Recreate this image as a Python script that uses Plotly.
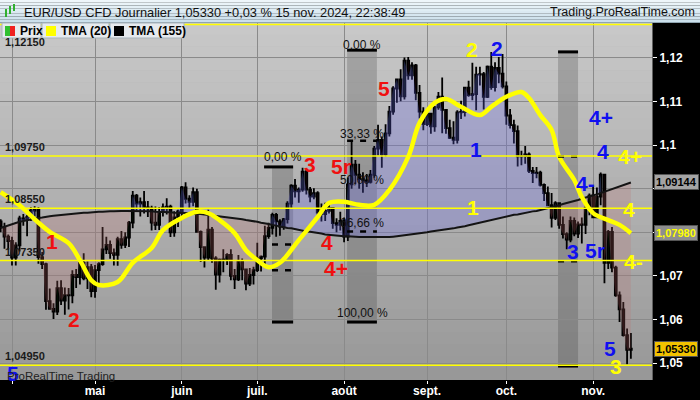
import plotly.graph_objects as go
import pandas as pd

# ---------------- data ----------------
dates = list(pd.bdate_range("2024-03-27", "2024-11-15").strftime("%Y-%m-%d"))

open_ = [1.0825,1.0812,1.0790,1.0780,1.0742,1.0770,1.0832,1.0830,1.0835,1.0850,
         1.0852,1.0743,1.0727,1.0642,1.0624,1.0618,1.0672,1.0643,1.0656,1.0655,
         1.0702,1.0697,1.0730,1.0694,1.0720,1.0665,1.0713,1.0727,1.0761,1.0771,
         1.0752,1.0748,1.0784,1.0771,1.0788,1.0822,1.0884,1.0866,1.0869,1.0857,
         1.0855,1.0822,1.0817,1.0847,1.0857,1.0859,1.0800,1.0834,1.0848,1.0903,
         1.0877,1.0870,1.0892,1.0801,1.0766,1.0742,1.0806,1.0740,1.0703,1.0737,
         1.0738,1.0748,1.0700,1.0692,1.0734,1.0715,1.0682,1.0702,1.0713,1.0740,
         1.0744,1.0791,1.0810,1.0840,1.0825,1.0813,1.0830,1.0866,1.0907,1.0894,
         1.0898,1.0939,1.0898,1.0882,1.0890,1.0845,1.0842,1.0849,1.0856,1.0821,
         1.0817,1.0826,1.0790,1.0910,1.0955,1.0932,1.0922,1.0919,1.0916,1.0932,
         1.0992,1.1012,1.0979,1.1027,1.1077,1.1130,1.1151,1.1112,1.1194,1.1160,
         1.1183,1.1120,1.1077,1.1048,1.1072,1.1043,1.1087,1.1111,1.1081,1.1039,
         1.1017,1.1012,1.1075,1.1076,1.1132,1.1115,1.1117,1.1162,1.1163,1.1111,
         1.1180,1.1133,1.1177,1.1164,1.1135,1.1068,1.1046,1.1032,1.0974,1.0975,
         1.0979,1.0941,1.0936,1.0937,1.0909,1.0890,1.0862,1.0833,1.0867,1.0817,
         1.0796,1.0783,1.0826,1.0797,1.0818,1.0817,1.0856,1.0884,1.0834,1.0882,
         1.0932,1.0730,1.0801,1.0719,1.0655,1.0623,1.0564,1.0530]
high = [1.0830,1.0822,1.0795,1.0790,1.0777,1.0838,1.0842,1.0840,1.0858,1.0860,
        1.0858,1.0755,1.0730,1.0671,1.0637,1.0689,1.0690,1.0673,1.0672,1.0713,
        1.0716,1.0743,1.0752,1.0733,1.0727,1.0725,1.0731,1.0812,1.0790,1.0781,
        1.0763,1.0790,1.0803,1.0800,1.0826,1.0895,1.0888,1.0880,1.0895,1.0872,
        1.0861,1.0859,1.0858,1.0866,1.0878,1.0863,1.0848,1.0852,1.0906,1.0915,
        1.0885,1.0903,1.0900,1.0804,1.0767,1.0852,1.0812,1.0745,1.0740,1.0761,
        1.0752,1.0761,1.0716,1.0748,1.0740,1.0717,1.0718,1.0721,1.0776,1.0747,
        1.0815,1.0822,1.0845,1.0844,1.0830,1.0833,1.0871,1.0910,1.0922,1.0903,
        1.0948,1.0943,1.0904,1.0901,1.0894,1.0866,1.0868,1.0871,1.0858,1.0832,
        1.0847,1.0834,1.0926,1.1009,1.0966,1.0957,1.0938,1.0934,1.0943,1.0998,
        1.1047,1.1020,1.1048,1.1090,1.1135,1.1151,1.1174,1.1201,1.1202,1.1190,
        1.1186,1.1138,1.1087,1.1083,1.1073,1.1090,1.1122,1.1155,1.1082,1.1058,
        1.1055,1.1080,1.1102,1.1134,1.1148,1.1189,1.1180,1.1180,1.1168,1.1183,
        1.1214,1.1190,1.1202,1.1209,1.1146,1.1083,1.1058,1.1045,1.0987,1.0998,
        1.0983,1.0950,1.0950,1.0941,1.0912,1.0905,1.0890,1.0871,1.0869,1.0836,
        1.0800,1.0836,1.0834,1.0825,1.0834,1.0870,1.0889,1.0905,1.0903,1.0937,
        1.0933,1.0805,1.0812,1.0723,1.0664,1.0640,1.0579,1.0569]
low = [1.0800,1.0762,1.0760,1.0724,1.0724,1.0756,1.0815,1.0791,1.0826,1.0836,
       1.0728,1.0716,1.0622,1.0622,1.0601,1.0610,1.0633,1.0611,1.0623,1.0637,
       1.0672,1.0680,1.0690,1.0670,1.0651,1.0650,1.0678,1.0723,1.0750,1.0739,
       1.0724,1.0723,1.0762,1.0764,1.0766,1.0809,1.0850,1.0836,1.0843,1.0835,
       1.0804,1.0805,1.0805,1.0836,1.0841,1.0789,1.0790,1.0812,1.0836,1.0866,
       1.0855,1.0860,1.0800,1.0732,1.0719,1.0735,1.0730,1.0668,1.0685,1.0708,
       1.0725,1.0690,1.0670,1.0688,1.0690,1.0667,1.0677,1.0680,1.0709,1.0710,
       1.0725,1.0785,1.0795,1.0790,1.0792,1.0806,1.0820,1.0854,1.0880,1.0868,
       1.0893,1.0887,1.0869,1.0876,1.0838,1.0825,1.0826,1.0843,1.0808,1.0800,
       1.0804,1.0777,1.0780,1.0900,1.0910,1.0900,1.0891,1.0904,1.0912,1.0925,
       1.0976,1.0948,1.0974,1.1020,1.1070,1.1097,1.1101,1.1105,1.1150,1.1150,
       1.1103,1.1061,1.1034,1.1044,1.1026,1.1031,1.1081,1.1027,1.1026,1.1014,
       1.1002,1.1004,1.1060,1.1066,1.1111,1.1103,1.1080,1.1137,1.1082,1.1108,
       1.1127,1.1123,1.1142,1.1130,1.1047,1.1038,1.1004,1.0951,1.0954,1.0957,
       1.0936,1.0913,1.0924,1.0905,1.0872,1.0862,1.0811,1.0828,1.0808,1.0786,
       1.0761,1.0777,1.0791,1.0787,1.0774,1.0796,1.0839,1.0833,1.0834,1.0862,
       1.0683,1.0716,1.0708,1.0652,1.0594,1.0561,1.0497,1.0510]
close = [1.0812,1.0790,1.0780,1.0742,1.0770,1.0832,1.0830,1.0835,1.0850,1.0852,
         1.0743,1.0727,1.0642,1.0624,1.0618,1.0672,1.0643,1.0656,1.0655,1.0702,
         1.0697,1.0730,1.0694,1.0720,1.0665,1.0713,1.0727,1.0761,1.0771,1.0752,
         1.0748,1.0784,1.0771,1.0788,1.0822,1.0884,1.0866,1.0869,1.0857,1.0855,
         1.0822,1.0817,1.0847,1.0857,1.0859,1.0800,1.0834,1.0848,1.0903,1.0877,
         1.0870,1.0892,1.0801,1.0766,1.0742,1.0806,1.0740,1.0703,1.0737,1.0738,
         1.0748,1.0700,1.0692,1.0734,1.0715,1.0682,1.0702,1.0713,1.0740,1.0744,
         1.0791,1.0810,1.0840,1.0825,1.0813,1.0830,1.0866,1.0907,1.0894,1.0898,
         1.0939,1.0898,1.0882,1.0890,1.0845,1.0842,1.0849,1.0856,1.0821,1.0817,
         1.0826,1.0790,1.0910,1.0955,1.0932,1.0922,1.0919,1.0916,1.0932,1.0992,
         1.1012,1.0979,1.1027,1.1077,1.1130,1.1151,1.1112,1.1194,1.1160,1.1183,
         1.1120,1.1077,1.1048,1.1072,1.1043,1.1087,1.1111,1.1081,1.1039,1.1017,
         1.1012,1.1075,1.1076,1.1132,1.1115,1.1117,1.1162,1.1163,1.1111,1.1180,
         1.1133,1.1177,1.1164,1.1135,1.1068,1.1046,1.1032,1.0974,1.0975,1.0979,
         1.0941,1.0936,1.0937,1.0909,1.0890,1.0862,1.0833,1.0867,1.0817,1.0796,
         1.0783,1.0826,1.0797,1.0818,1.0817,1.0856,1.0884,1.0834,1.0882,1.0932,
         1.0730,1.0801,1.0719,1.0655,1.0623,1.0564,1.0530,1.0533]

tma155 = [1.0810,1.0813,1.0816,1.0819,1.0821,1.0824,1.0826,1.0828,1.0830,1.0832,
          1.0833,1.0834,1.0836,1.0837,1.0838,1.0839,1.0840,1.0841,1.0842,1.0843,
          1.0843,1.0844,1.0845,1.0845,1.0846,1.0846,1.0847,1.0847,1.0848,1.0848,
          1.0848,1.0849,1.0849,1.0849,1.0849,1.0849,1.0849,1.0848,1.0848,1.0848,
          1.0848,1.0847,1.0847,1.0847,1.0846,1.0846,1.0845,1.0845,1.0844,1.0844,
          1.0843,1.0843,1.0842,1.0842,1.0841,1.0840,1.0839,1.0838,1.0837,1.0836,
          1.0835,1.0834,1.0832,1.0831,1.0830,1.0828,1.0827,1.0825,1.0824,1.0822,
          1.0821,1.0819,1.0817,1.0815,1.0814,1.0812,1.0810,1.0809,1.0807,1.0805,
          1.0804,1.0802,1.0801,1.0800,1.0798,1.0797,1.0795,1.0794,1.0793,1.0793,
          1.0792,1.0791,1.0791,1.0790,1.0790,1.0789,1.0789,1.0789,1.0789,1.0788,
          1.0788,1.0788,1.0789,1.0789,1.0790,1.0791,1.0792,1.0793,1.0794,1.0795,
          1.0797,1.0798,1.0799,1.0800,1.0802,1.0803,1.0804,1.0806,1.0807,1.0808,
          1.0809,1.0811,1.0812,1.0814,1.0816,1.0818,1.0820,1.0822,1.0824,1.0826,
          1.0829,1.0831,1.0833,1.0835,1.0836,1.0838,1.0840,1.0841,1.0843,1.0845,
          1.0846,1.0848,1.0849,1.0851,1.0853,1.0855,1.0858,1.0860,1.0862,1.0865,
          1.0867,1.0869,1.0872,1.0874,1.0877,1.0880,1.0882,1.0885,1.0887,1.0890,
          1.0893,1.0896,1.0899,1.0902,1.0905,1.0908,1.0911,1.09144]

tma20_days = [0, 5, 9, 13, 18, 21, 24, 26, 31, 35, 40, 43, 48, 52, 55, 58, 62, 65,
              68, 71, 74, 79, 84, 87, 91, 95, 99, 103, 108, 111, 115, 118, 122,
              127, 130, 134, 138, 140, 143, 146, 148, 152, 154, 157, 161, 164, 167]
tma20_vals = [1.0892, 1.0862, 1.0830, 1.0801, 1.0775, 1.0736, 1.0690, 1.0679,
              1.0686, 1.0730, 1.0764, 1.0805, 1.0833, 1.0847, 1.0844, 1.0828,
              1.0798, 1.0759, 1.0736, 1.0720, 1.0730, 1.0782, 1.0835, 1.0867,
              1.0870, 1.0863, 1.0863, 1.0897, 1.0973, 1.1051, 1.1097, 1.1106,
              1.1088, 1.1069, 1.1088, 1.1111, 1.1122, 1.1108, 1.1069, 1.1035,
              1.0973, 1.0920, 1.0881, 1.0844, 1.0828, 1.0817, 1.07980]

month_tick_dates = ["2024-04-01", "2024-05-01", "2024-06-03", "2024-07-01",
                    "2024-08-01", "2024-09-02", "2024-10-01", "2024-11-01"]
month_labels = ["", "mai", "juin", "juil.", "août", "sept.", "oct.", "nov."]

price_ticks = [1.05, 1.06, 1.07, 1.08, 1.09, 1.10, 1.11, 1.12]
# 1,08 and 1,09 sit under the value boxes in the reference
price_tick_labels = ["1,05", "1,06", "1,07", "", "", "1,1", "1,11", "1,12"]

level_lines = [1.1277, 1.0975, 1.0855, 1.0735, 1.0495]
level_label_vals = [1.1215, 1.0975, 1.0855, 1.0735, 1.0495]
level_label_text = ["1,12150", "1,09750", "1,08550", "1,07350", "1,04950"]

# Fibonacci boxes: (x start, x end, 0% price, 100% price, dashed levels)
fib_boxes = [
    (71.9, 77.5, 1.0950, 1.0594, [0.5, 0.6666]),
    (91.8, 99.7, 1.1218, 1.0594, [0.3333, 0.6666]),
    (147.7, 153.0, 1.1214, 1.0493, [0.3333, 0.6666]),
]
fib_texts = [("0,00 %", 74.8, 1.0973), ("0,00 %", 95.8, 1.1230),
             ("33,33 %", 95.8, 1.1026), ("50,00 %", 95.8, 1.0920),
             ("66,66 %", 95.8, 1.0821), ("100,00 %", 95.8, 1.0615)]

RED, YEL, BLU = "#f01010", "#ffff00", "#1010f0"
wave_labels = [
    ("1", RED, 13.6, 1.0780), ("2", RED, 19.3, 1.0599), ("3", RED, 81.9, 1.0955),
    ("5r", RED, 90.2, 1.0952), ("4", RED, 86.5, 1.0776), ("4+", RED, 88.8, 1.0718),
    ("5", RED, 101.5, 1.1131),
    ("2", YEL, 124.9, 1.1220), ("1", YEL, 125.2, 1.0857), ("4+", YEL, 166.7, 1.0973),
    ("4", YEL, 166.5, 1.0852), ("4-", YEL, 167.8, 1.0734), ("3", YEL, 163.1, 1.0491),
    ("2", BLU, 131.5, 1.1222), ("1", BLU, 126.0, 1.0991), ("4+", BLU, 159.0, 1.1063),
    ("4", BLU, 159.6, 1.0985), ("4-", BLU, 154.9, 1.0911), ("3", BLU, 151.7, 1.0757),
    ("5r", BLU, 157.6, 1.0759), ("5", BLU, 161.6, 1.0534), ("5", BLU, 3.3, 1.0477),
]

# ---------------- geometry helpers ----------------
n = len(dates)
xi = list(range(n))
idx_of = {d: i for i, d in enumerate(dates)}
X0, X1 = -0.18, 172.6
Y0, Y1 = 1.0461, 1.12803
PW, PH, TOP = 652, 357, 23


def px(xpix):
    return xpix / PW


def py(ypix):
    return (TOP + PH - ypix) / PH


fig = go.Figure()

# fill between close and TMA(155)
polys = []
d = [c - t for c, t in zip(close, tma155)]
sign = d[0] >= 0
cur_c = [(0, close[0])]
cur_t = [(0, tma155[0])]
for i in range(1, n):
    s = d[i] >= 0
    if s != sign:
        t = d[i - 1] / (d[i - 1] - d[i])
        xc = i - 1 + t
        yc = close[i - 1] + t * (close[i] - close[i - 1])
        cur_c.append((xc, yc))
        polys.append((sign, cur_c + cur_t[::-1]))
        cur_c = [(xc, yc)]
        cur_t = [(xc, yc)]
        sign = s
    cur_c.append((i, close[i]))
    cur_t.append((i, tma155[i]))
polys.append((sign, cur_c + cur_t[::-1]))
for above, pts in polys:
    fig.add_trace(go.Scatter(
        x=[p[0] for p in pts], y=[p[1] for p in pts], mode="lines",
        fill="toself", line=dict(width=0),
        fillcolor="rgba(105,105,235,0.27)" if above else "rgba(190,110,110,0.22)",
        hoverinfo="skip", showlegend=False))

fig.add_trace(go.Candlestick(
    x=xi, open=open_, high=high, low=low, close=close,
    increasing=dict(line=dict(color="black", width=1.8), fillcolor="#20e020"),
    decreasing=dict(line=dict(color="black", width=1.8), fillcolor="#ff2040"),
    whiskerwidth=0, showlegend=False, hoverinfo="skip"))

fig.add_trace(go.Scatter(x=xi, y=tma155, mode="lines",
                         line=dict(color="#141414", width=2),
                         showlegend=False, hoverinfo="skip"))
fig.add_trace(go.Scatter(x=tma20_days, y=tma20_vals, mode="lines",
                         line=dict(color="#ffff00", width=4.5, shape="spline", smoothing=1.0),
                         showlegend=False, hoverinfo="skip"))

shapes = []
# gradient background of plot
NB = 30
for k in range(NB):
    f = k / (NB - 1)
    g = int(round(200 - 48 * f))
    shapes.append(dict(type="rect", xref="paper", yref="paper", x0=0, x1=1,
                       y0=1 - (k + 1) / NB, y1=1 - k / NB + 0.001, layer="below",
                       line=dict(width=0), fillcolor=f"rgb({g},{g},{g})"))
# header gradient
NH = 8
for k in range(NH):
    f = k / (NH - 1)
    r = int(round(238 - 34 * f)); g = int(round(246 - 22 * f)); b = int(round(250 - 14 * f))
    shapes.append(dict(type="rect", xref="paper", yref="paper", x0=0, x1=700 / PW,
                       y0=py(22 * (k + 1) / NH), y1=py(22 * k / NH), layer="above",
                       line=dict(width=0), fillcolor=f"rgb({r},{g},{b})"))
shapes.append(dict(type="line", xref="paper", yref="paper", x0=0, x1=700 / PW,
                   y0=py(22.5), y1=py(22.5), line=dict(color="#8fa4b0", width=1), layer="above"))

# fib boxes
for (xa, xb, p0, p1, lv) in fib_boxes:
    shapes.append(dict(type="rect", xref="x", yref="y", x0=xa, x1=xb, y0=p1, y1=p0,
                       layer="below", line=dict(width=0), fillcolor="rgba(40,40,40,0.22)"))
    shapes.append(dict(type="line", xref="x", yref="y", x0=xa, x1=xb, y0=p0, y1=p0,
                       line=dict(color="black", width=3), layer="above"))
    shapes.append(dict(type="line", xref="x", yref="y", x0=xa, x1=xb, y0=p1, y1=p1,
                       line=dict(color="black", width=3), layer="above"))
    for r in lv:
        pv = p0 - r * (p0 - p1)
        shapes.append(dict(type="line", xref="x", yref="y", x0=xa, x1=xb, y0=pv, y1=pv,
                           line=dict(color="black", width=2.5, dash="6px,7px"), layer="above"))
# extra underline of first fib label
shapes.append(dict(type="line", xref="x", yref="y", x0=69.8, x1=71.9, y0=1.0950, y1=1.0950,
                   line=dict(color="black", width=3), layer="above"))

# yellow level lines
for v in level_lines:
    shapes.append(dict(type="line", xref="paper", yref="y", x0=0, x1=1, y0=v, y1=v,
                       line=dict(color="#ffff00", width=1.5), layer="above"))

# legend boxes
legend_boxes = [(2, 41), (42, 109), (110, 184)]
for a, b in legend_boxes:
    shapes.append(dict(type="rect", xref="paper", yref="paper", x0=px(a), x1=px(b),
                       y0=py(38), y1=py(23), layer="above",
                       line=dict(color="#a8b4bc", width=1), fillcolor="#e6eaee"))
icons = [(5, 10, "#30c030"), (10, 15, "#f02020"), (46, 56, "#ffff00"), (114, 124, "#000000")]
for a, b, c in icons:
    shapes.append(dict(type="rect", xref="paper", yref="paper", x0=px(a), x1=px(b),
                       y0=py(36), y1=py(26), layer="above", line=dict(width=0), fillcolor=c))
# small title icon candles
for a, b, t, bt, c in [(5, 7, 9, 17, "#30b030"), (9, 11, 6, 14, "#30b030"), (13, 15, 4, 11, "#30b030")]:
    shapes.append(dict(type="rect", xref="paper", yref="paper", x0=px(a), x1=px(b),
                       y0=py(bt), y1=py(t), layer="above", line=dict(width=0), fillcolor=c))

annotations = []
FONT = "Liberation Sans, Arial, sans-serif"
annotations.append(dict(xref="paper", yref="paper", x=px(22), y=py(12), xanchor="left",
                        yanchor="middle", showarrow=False,
                        text="EUR/USD CFD Journalier 1,05330 +0,03 % 15 nov. 2024, 22:38:49",
                        font=dict(family=FONT, size=12.8, color="#111111")))
annotations.append(dict(xref="paper", yref="paper", x=px(697), y=py(12), xanchor="right",
                        yanchor="middle", showarrow=False, text="Trading.ProRealTime.com",
                        font=dict(family=FONT, size=12.5, color="#111111")))
for txt, x in [("Prix", 18), ("TMA (20)", 59), ("TMA (155)", 127)]:
    annotations.append(dict(xref="paper", yref="paper", x=px(x), y=py(30.5), xanchor="left",
                            yanchor="middle", showarrow=False, text=f"<b>{txt}</b>",
                            font=dict(family=FONT, size=12, color="#000000")))

for v, t in zip(level_label_vals, level_label_text):
    annotations.append(dict(xref="paper", yref="y", x=px(3), y=v, xanchor="left",
                            yanchor="bottom", yshift=1, showarrow=False, text=f"<b>{t}</b>",
                            font=dict(family=FONT, size=11, color="#1a1a1a")))

for t, x, y in fib_texts:
    annotations.append(dict(xref="x", yref="y", x=x, y=y, xanchor="center", yanchor="middle",
                            showarrow=False, text=t,
                            font=dict(family=FONT, size=12, color="#111111")))

for t, c, x, y in wave_labels:
    annotations.append(dict(xref="x", yref="y", x=x, y=y, xanchor="center", yanchor="middle",
                            showarrow=False, text=f"<b>{t}</b>",
                            font=dict(family=FONT, size=21, color=c)))

annotations.append(dict(xref="paper", yref="paper", x=px(5), y=py(376), xanchor="left",
                        yanchor="middle", showarrow=False, text="ProRealTime Trading",
                        font=dict(family=FONT, size=11.5, color="#222222")))

# right-axis value boxes
def fmt(v):
    return f"{v:.5f}".replace(".", ",")

for v, fc, bg in [(tma155[-1], "#000000", "#a4a4a4"), (tma20_vals[-1], "#ffff00", "#8e8e8e"),
                  (close[-1], "#000000", "#f2c200")]:
    annotations.append(dict(xref="paper", yref="y", x=px(654), y=v, xanchor="left",
                            yanchor="middle", showarrow=False, text=f"<b>{fmt(v)}</b>",
                            font=dict(family=FONT, size=11, color=fc), bgcolor=bg,
                            bordercolor="#555555", borderwidth=1, borderpad=1))

fig.update_layout(
    width=700, height=400,
    margin=dict(l=0, r=48, t=23, b=20),
    paper_bgcolor="#000000", plot_bgcolor="#b0b0b0",
    shapes=shapes, annotations=annotations, showlegend=False,
    xaxis=dict(range=[X0, X1], rangeslider=dict(visible=False),
               tickvals=[idx_of[d] for d in month_tick_dates],
               ticktext=[f"<b>{t}</b>" for t in month_labels],
               tickfont=dict(family=FONT, size=12, color="white"),
               ticks="outside", ticklen=3, tickcolor="white", ticklabelstandoff=-3,
               showgrid=True, gridcolor="#8a8a8a", gridwidth=1, zeroline=False,
               showline=False, automargin=False),
    yaxis=dict(range=[Y0, Y1], side="right", tickvals=price_ticks,
               ticktext=[f"<b>{t}</b>" if t else "" for t in price_tick_labels],
               tickfont=dict(family=FONT, size=12, color="white"),
               ticks="outside", ticklen=4, tickcolor="white",
               showgrid=True, gridcolor="#8a8a8a", gridwidth=1, zeroline=False,
               showline=True, linecolor="#606060", linewidth=1, automargin=False),
)

fig.write_html("out.html", config={"displayModeBar": False},
               post_script="document.body.style.margin='0';document.body.style.background='#000';")
